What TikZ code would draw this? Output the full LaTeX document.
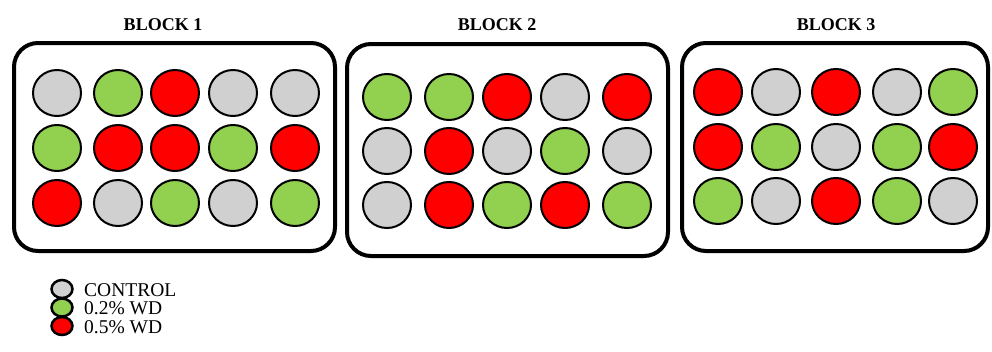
\documentclass[tikz,border=0pt]{standalone}
\usepackage{fontspec}
\setmainfont{Liberation Serif}
\usetikzlibrary{shapes.geometric}
\definecolor{cgray}{HTML}{D0D0D0}
\definecolor{cgreen}{HTML}{92D050}
\definecolor{cred}{HTML}{FF0000}
\tikzset{
  blockbox/.style={draw=black, line width=4pt, rounded corners=24pt},
  well/.style={ellipse, draw=black, line width=2pt, minimum width=48pt, minimum height=46pt, inner sep=0pt},
  lwell/.style={ellipse, draw=black, line width=2.5pt, minimum width=21pt, minimum height=18pt, inner sep=0pt},
  title/.style={font=\fontsize{18}{21}\selectfont\bfseries, inner sep=0pt},
  legtext/.style={font=\fontsize{19.5}{22}\selectfont, anchor=west, inner sep=0pt},
  G/.style={fill=cgray}, V/.style={fill=cgreen}, R/.style={fill=cred}
}
\begin{document}
\begin{tikzpicture}[x=1pt,y=-1pt]
\useasboundingbox (0,0) rectangle (992,351);
% blocks
\node[blockbox, minimum width=321pt, minimum height=208pt] (blk1) at (174.5,147) {};
\node[blockbox, minimum width=321pt, minimum height=212pt] (blk2) at (507.5,150) {};
\node[blockbox, minimum width=306pt, minimum height=208pt] (blk3) at (835,147) {};
\node[title] (t1) at (163,25) {BLOCK 1};
\node[title] (t2) at (497,25) {BLOCK 2};
\node[title] (t3) at (836,25) {BLOCK 3};
% block 1
\foreach \x/\c [count=\i] in {57/G,118/V,175/R,233/G,295/G} \node[well,\c] (b1r1c\i) at (\x,93) {};
\foreach \x/\c [count=\i] in {57/V,118/R,175/R,233/V,295/R} \node[well,\c] (b1r2c\i) at (\x,148) {};
\foreach \x/\c [count=\i] in {57/R,118/G,175/V,233/G,295/V} \node[well,\c] (b1r3c\i) at (\x,203) {};
% block 2
\foreach \x/\c [count=\i] in {387/V,449/V,507/R,565/G,627/R} \node[well,\c] (b2r1c\i) at (\x,97) {};
\foreach \x/\c [count=\i] in {387/G,449/R,507/G,565/V,627/G} \node[well,\c] (b2r2c\i) at (\x,151) {};
\foreach \x/\c [count=\i] in {387/G,449/R,507/V,565/R,627/V} \node[well,\c] (b2r3c\i) at (\x,205) {};
% block 3
\foreach \x/\c [count=\i] in {718/R,776/G,836/R,897/G,953/V} \node[well,\c] (b3r1c\i) at (\x,92) {};
\foreach \x/\c [count=\i] in {718/R,776/V,836/G,897/V,953/R} \node[well,\c] (b3r2c\i) at (\x,147) {};
\foreach \x/\c [count=\i] in {718/V,776/G,836/R,897/V,953/G} \node[well,\c] (b3r3c\i) at (\x,201) {};
% legend
\node[lwell,G] (l1) at (62,289) {};
\node[lwell,V] (l2) at (62,307.5) {};
\node[lwell,R] (l3) at (62,326) {};
\node[legtext] (lt1) at (84,290) {CONTROL};
\node[legtext] (lt2) at (84,308.5) {0.2\% WD};
\node[legtext] (lt3) at (84,327) {0.5\% WD};
\end{tikzpicture}
\end{document}
